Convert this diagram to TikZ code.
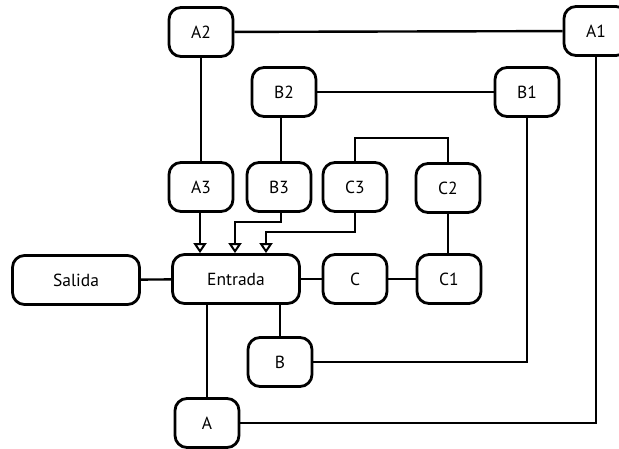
\documentclass[tikz,border=0pt]{standalone}
\usepackage{fontspec}
\setmainfont{PT Sans}
\usetikzlibrary{arrows.meta}
\tikzset{
  box/.style={draw, line width=2.8pt, rounded corners=12pt, minimum width=64pt, minimum height=49pt, inner sep=0pt, font=\fontsize{17.5}{20}\selectfont, fill=white},
  wide/.style={box, minimum width=127pt},
  conn/.style={line width=2.4pt},
  arr/.style={conn, -{Triangle[open, length=10pt, width=13pt, line width=2pt]}},
}
\begin{document}
\begin{tikzpicture}[x=1pt,y=-1pt]
\useasboundingbox (0,0) rectangle (619,449);
\clip (0,0) rectangle (619,449);
% nodes
\node[box] (A2) at (201,32) {A2};
\node[box] (A1) at (596,31) {A1};
\node[box] (B2) at (284,92) {B2};
\node[box] (B1) at (527,92) {B1};
\node[box] (A3) at (201,187) {A3};
\node[box] (B3) at (279,187) {B3};
\node[box] (C3) at (355,187) {C3};
\node[box] (C2) at (448,188) {C2};
\node[wide] (E) at (236,279) {Entrada};
\node[wide] (S) at (76,280) {Salida};
\node[box] (C) at (355,279) {C};
\node[box] (C1) at (449,279) {C1};
\node[box] (B) at (280,362) {B};
\node[box] (A) at (207,423) {A};
% helper coordinates
\coordinate (aA) at (200,0);
\coordinate (aB) at (235,0);
\coordinate (aC) at (266,0);
% connectors
\draw[conn] (A2) -- (A1);
\draw[conn] (A2) -- (A3);
\draw[conn] (B2) -- (B1);
\draw[conn] (B2.south -| 281,0) -- (B3.north -| 281,0);
\draw[conn] (C2.south -| 448,0) -- (C1.north -| 448,0);
\draw[conn] (C3.north) |- (355,138) -| (C2.north);
\draw[arr] (A3.south -| aA) -- (E.north -| aA);
\draw[arr] (B3.south -| 281,0) |- (235,222) -- (E.north -| aB);
\draw[arr] (C3.south) |- (266,232) -- (E.north -| aC);
\draw[conn] (S) -- (E);
\draw[conn] (E) -- (C);
\draw[conn] (C) -- (C1);
\draw[conn] (E.south -| 207,0) -- (A.north);
\draw[conn] (E.south -| 280,0) -- (B.north);
\draw[conn] (B.east) -| (B1.south);
\draw[conn] (A.east) -| (A1.south);
\end{tikzpicture}
\end{document}
